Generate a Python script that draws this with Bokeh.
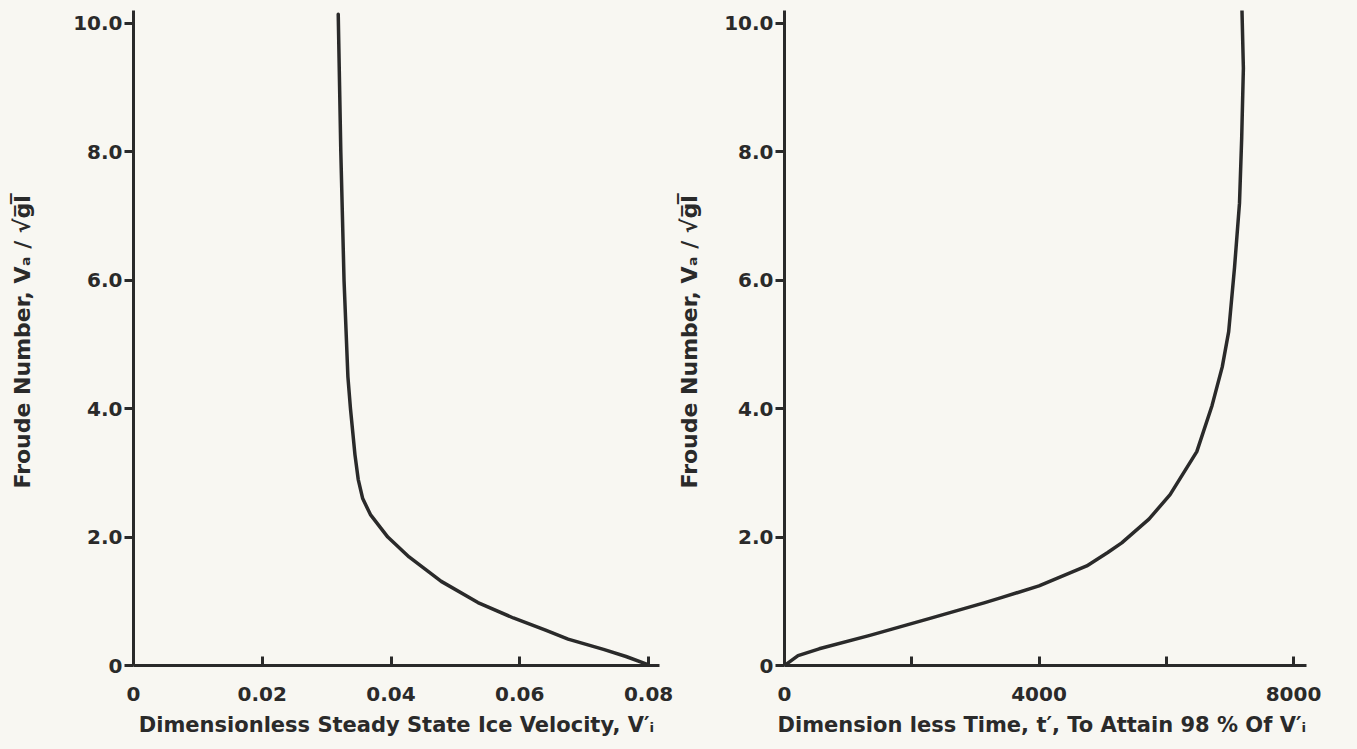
from bokeh.plotting import figure
from bokeh.layouts import row
from bokeh.models import Range1d, FixedTicker
from bokeh.embed import file_html
from bokeh.resources import INLINE

# ---- data ----
vel_left = [0.0797, 0.0765, 0.0730, 0.0675, 0.0640, 0.0590, 0.0535, 0.0478, 0.0428,
            0.0395, 0.0368, 0.0356, 0.0349, 0.0344, 0.0337, 0.0333, 0.0327, 0.0322, 0.0318]
froude_left = [0.02, 0.14, 0.25, 0.41, 0.55, 0.74, 0.98, 1.31, 1.69,
               2.0, 2.35, 2.6, 2.9, 3.28, 4.0, 4.5, 6.0, 8.0, 10.14]

time_right = [0, 213, 545, 1342, 2273, 3150, 3420, 4000, 4750, 5080, 5300, 5728,
              6060, 6480, 6720, 6880, 6981, 7073, 7151, 7185, 7212, 7190]
froude_right = [0, 0.155, 0.26, 0.47, 0.73, 0.98, 1.06, 1.24, 1.55, 1.76, 1.91, 2.28,
                2.66, 3.33, 4.05, 4.65, 5.2, 6.2, 7.2, 8.2, 9.3, 10.2]

y_ticks = [0, 2, 4, 6, 8, 10]
y_tick_labels = ["0", "2.0", "4.0", "6.0", "8.0", "10.0"]
x_ticks_left = [0, 0.02, 0.04, 0.06, 0.08]
x_tick_labels_left = ["0", "0.02", "0.04", "0.06", "0.08"]
x_ticks_right = [0, 2000, 4000, 6000, 8000]
x_tick_labels_right = ["0", "", "4000", "", "8000"]

y_label = "Froude Number,  V\u2090 / \u221ag\u0305l\u0305"
x_label_left = "Dimensionless Steady State Ice Velocity, V\u2032\u1d62"
x_label_right = "Dimension less Time, t\u2032,  To Attain 98 % Of V\u2032\u1d62"

BG = "#f8f7f2"
INK = "#2a2a2a"
FONT = "DejaVu Sans"


def style(p, xt, xl, ystand):
    p.background_fill_color = BG
    p.border_fill_color = BG
    p.outline_line_color = None
    p.grid.visible = False
    for ax in (p.xaxis[0], p.yaxis[0]):
        ax.axis_line_width = 3
        ax.axis_line_color = INK
        ax.major_tick_line_width = 3
        ax.major_tick_line_color = INK
        ax.minor_tick_line_color = None
        ax.major_label_text_font = FONT
        ax.major_label_text_font_style = "bold"
        ax.major_label_text_font_size = "20px"
        ax.major_label_text_color = INK
        ax.axis_label_text_font = FONT
        ax.axis_label_text_font_style = "bold"
        ax.axis_label_text_font_size = "21px"
        ax.axis_label_text_color = INK
    xa = p.xaxis[0]
    xa.ticker = FixedTicker(ticks=xt)
    xa.major_label_overrides = {t: l for t, l in zip(xt, xl)}
    xa.major_tick_in = 9
    xa.major_tick_out = 0
    xa.major_label_standoff = 21
    xa.axis_label_standoff = 9
    ya = p.yaxis[0]
    ya.ticker = FixedTicker(ticks=y_ticks)
    ya.major_label_overrides = {t: l for t, l in zip(y_ticks, y_tick_labels)}
    ya.major_tick_in = 0
    ya.major_tick_out = 9
    ya.major_label_standoff = 2
    ya.axis_label_standoff = ystand
    ya.axis_label_text_font_size = "22px"


p1 = figure(width=674, height=749, output_backend="svg", toolbar_location=None,
            x_range=Range1d(0, 0.0817), y_range=Range1d(0, 10.2),
            min_border_left=133, min_border_right=15, min_border_top=10,
            min_border_bottom=84, x_axis_label=x_label_left, y_axis_label=y_label)
p1.line(vel_left, froude_left, line_width=3.5, line_color=INK, line_join="round", line_cap="round")
style(p1, x_ticks_left, x_tick_labels_left, 35)

p2 = figure(width=683, height=749, output_backend="svg", toolbar_location=None,
            x_range=Range1d(0, 8204), y_range=Range1d(0, 10.2),
            min_border_left=108, min_border_right=51, min_border_top=10,
            min_border_bottom=84, x_axis_label=x_label_right, y_axis_label=y_label)
p2.line(time_right, froude_right, line_width=3.5, line_color=INK, line_join="round", line_cap="round")
style(p2, x_ticks_right, x_tick_labels_right, 19)

layout = row(p1, p2)
layout.styles = {"background-color": BG}
open("out.html", "w").write(file_html(layout, INLINE))
